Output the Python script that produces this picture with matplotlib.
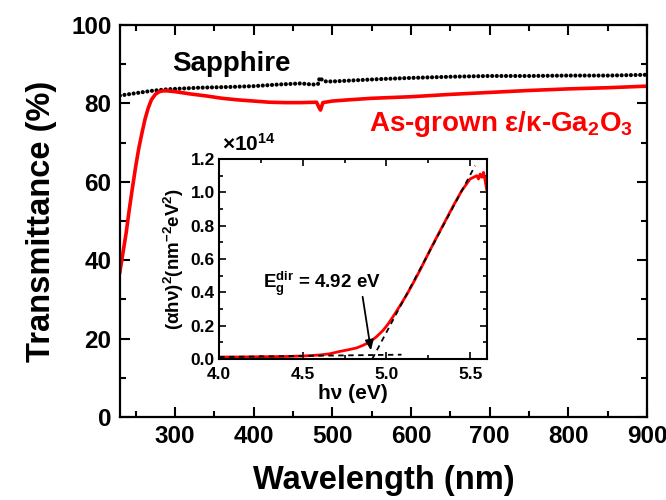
import matplotlib
matplotlib.use("Agg")
import matplotlib.pyplot as plt
from matplotlib.ticker import MultipleLocator, FormatStrFormatter

# main panel: transmittance spectra
wavelength_sapphire = [230, 250, 270, 290, 310, 330, 350, 370, 400, 430, 460, 470, 478,
                       482, 484, 487, 492, 500, 530, 560, 600, 650, 700, 750, 800, 850, 900]
trans_sapphire = [82.0, 82.6, 83.2, 83.6, 83.8, 84.0, 84.1, 84.2, 84.4, 84.8, 85.1, 84.9, 84.8,
                  85.0, 86.6, 86.0, 85.6, 85.6, 85.9, 86.2, 86.5, 86.8, 87.0, 87.0, 87.1, 87.1, 87.3]

wavelength_film = [230, 234, 238, 242, 246, 250, 254, 258, 262, 266, 270, 275, 280, 285, 290,
                   300, 320, 340, 360, 380, 400, 420, 440, 460, 480, 483, 485, 488, 500, 520,
                   550, 600, 650, 700, 750, 800, 850, 900]
trans_film = [37.0, 42.0, 47.0, 53.0, 58.5, 63.8, 68.5, 72.4, 76.0, 78.8, 80.9, 82.3, 83.0, 83.2,
              83.2, 83.0, 82.4, 81.9, 81.3, 80.9, 80.6, 80.3, 80.2, 80.2, 80.3, 79.0, 78.3, 80.2,
              80.6, 80.9, 81.3, 81.7, 82.3, 82.8, 83.3, 83.7, 84.0, 84.4]

# inset: Tauc plot, (alpha h nu)^2 in units of 1e14
hv = [4.0, 4.1, 4.2, 4.3, 4.4, 4.5, 4.6, 4.66, 4.72, 4.77, 4.82, 4.86, 4.9, 4.94, 4.98, 5.01,
      5.04, 5.08, 5.12, 5.16, 5.2, 5.26, 5.3, 5.4, 5.45, 5.5, 5.52, 5.54, 5.55, 5.56, 5.57,
      5.58, 5.59, 5.6]
ahv2 = [0.012, 0.012, 0.013, 0.014, 0.015, 0.018, 0.024, 0.031, 0.045, 0.055, 0.066, 0.082,
        0.102, 0.133, 0.172, 0.210, 0.255, 0.318, 0.384, 0.456, 0.532, 0.652, 0.730, 0.920,
        1.010, 1.080, 1.090, 1.100, 1.080, 1.110, 1.090, 1.120, 1.070, 1.010]
fit_hv = [4.915, 5.53]
fit_val = [0.0, 1.16]
base_hv = [4.0, 5.09]
base_val = [0.012, 0.026]
eg = 4.92

plt.rcParams["font.family"] = ["Liberation Sans", "DejaVu Sans"]
plt.rcParams["font.weight"] = "bold"
plt.rcParams["mathtext.fontset"] = "custom"
plt.rcParams["mathtext.rm"] = "Liberation Sans:bold"
plt.rcParams["mathtext.it"] = "Liberation Sans:bold"
plt.rcParams["mathtext.bf"] = "Liberation Sans:bold"

fig = plt.figure(figsize=(6.66, 5), dpi=100)
ax = fig.add_axes([0.180, 0.166, 0.7915, 0.784])

ax.plot(wavelength_sapphire, trans_sapphire, color="black", lw=3.0,
        ls=(0, (0.01, 1.1)), dash_capstyle="round")
ax.plot(wavelength_film, trans_film, color="red", lw=2.6)

ax.set_xlim(230, 900)
ax.set_ylim(0, 100)
ax.xaxis.set_major_locator(MultipleLocator(100))
ax.xaxis.set_minor_locator(MultipleLocator(50))
ax.yaxis.set_major_locator(MultipleLocator(20))
ax.yaxis.set_minor_locator(MultipleLocator(10))
ax.tick_params(which="both", direction="in", top=True, right=True, width=1.5)
ax.tick_params(which="major", length=7, labelsize=17.5, pad=6)
ax.tick_params(which="minor", length=4)
for s in ax.spines.values():
    s.set_linewidth(1.6)
ax.set_xlabel("Wavelength (nm)", fontsize=23.5, fontweight="bold", labelpad=12)
ax.set_ylabel("Transmittance (%)", fontsize=23.5, fontweight="bold", labelpad=10)

ax.text(0.100, 0.900, "Sapphire", transform=ax.transAxes, fontsize=20,
        fontweight="bold", va="center", ha="left")
ax.text(0.973, 0.748, "As-grown ε/κ-Ga$_2$O$_3$", transform=ax.transAxes, fontsize=20,
        fontweight="bold", color="red", va="center", ha="right")

# inset
ins = fig.add_axes([0.329, 0.282, 0.402, 0.40])
ins.plot(hv, ahv2, color="red", lw=2.0)
ins.plot(fit_hv, fit_val, color="black", lw=1.3, ls=(0, (3, 2.5)))
ins.plot(base_hv, base_val, color="black", lw=1.3, ls=(0, (3, 2.5)))
ins.set_xlim(4.0, 5.6)
ins.set_ylim(0, 1.2)
ins.xaxis.set_major_locator(MultipleLocator(0.5))
ins.xaxis.set_minor_locator(MultipleLocator(0.25))
ins.yaxis.set_major_locator(MultipleLocator(0.2))
ins.yaxis.set_minor_locator(MultipleLocator(0.1))
ins.xaxis.set_major_formatter(FormatStrFormatter("%.1f"))
ins.yaxis.set_major_formatter(FormatStrFormatter("%.1f"))
ins.tick_params(which="both", direction="in", top=True, right=True, width=1.2)
ins.tick_params(which="major", length=5, labelsize=12.5, pad=3)
ins.tick_params(axis="x", which="major", pad=6)
ins.tick_params(which="minor", length=3)
for s in ins.spines.values():
    s.set_linewidth(1.5)
ins.set_xlabel("hν (eV)", fontsize=15, fontweight="bold", labelpad=1)
ins.set_ylabel("(αhν)$^2$(nm$^{-2}$eV$^2$)", fontsize=13.5, fontweight="bold", labelpad=3)
ins.text(0.01, 1.02, "×10$^{14}$", transform=ins.transAxes, fontsize=15,
         fontweight="bold", ha="left", va="bottom")
ins.annotate("", xy=(eg - 0.01, 0.035), xytext=(4.855, 0.39),
             arrowprops=dict(arrowstyle="-|>,head_length=0.6,head_width=0.25",
                             color="black", lw=1.3))
ins.text(4.26, 0.45, "E$_g^{dir}$ = 4.92 eV", fontsize=13.5, fontweight="bold",
         ha="left", va="center")

fig.savefig("out.png", dpi=100)
